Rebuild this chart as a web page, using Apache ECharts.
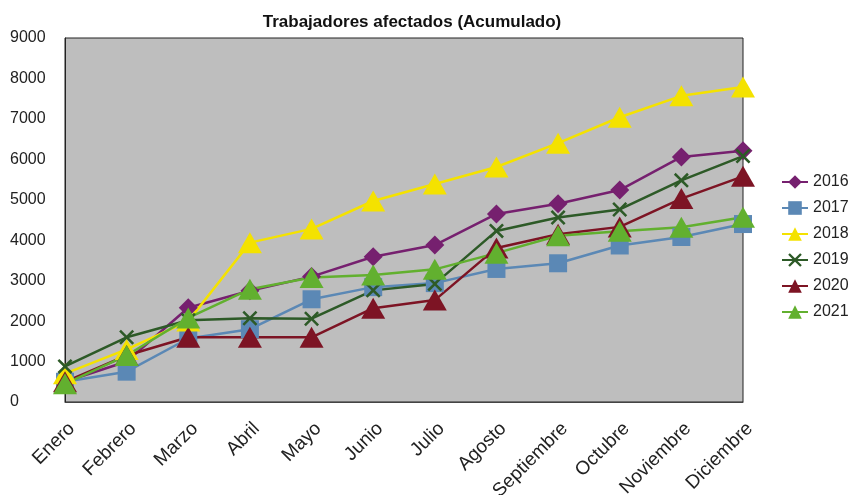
<!DOCTYPE html>
<html>
<head>
<meta charset="utf-8">
<script src="https://cdn.jsdelivr.net/npm/echarts@6/dist/echarts.min.js"></script>
<style>
  html, body { margin: 0; padding: 0; background: #fff; }
  #chart { width: 854px; height: 495px; }
</style>
</head>
<body>
<div id="chart"></div>
<script>
const meses = ['Enero', 'Febrero', 'Marzo', 'Abril', 'Mayo', 'Junio', 'Julio',
  'Agosto', 'Septiembre', 'Octubre', 'Noviembre', 'Diciembre']

const y2016 = [500, 1000, 2330, 2750, 3100, 3590, 3880, 4650, 4900, 5240, 6060, 6210]
const y2017 = [500, 750, 1570, 1800, 2540, 2840, 2940, 3290, 3430, 3870, 4080, 4400]
const y2018 = [700, 1300, 2000, 3940, 4280, 4970, 5390, 5810, 6400, 7040, 7570, 7790]
const y2019 = [880, 1600, 2020, 2070, 2060, 2760, 2920, 4230, 4560, 4760, 5480, 6080]
const y2020 = [500, 1150, 1600, 1600, 1600, 2320, 2520, 3810, 4150, 4330, 5030, 5580]
const y2021 = [450, 1150, 2080, 2790, 3080, 3140, 3280, 3680, 4110, 4220, 4320, 4570]

const cruz = 'path://M0,1.2L1.2,0L5,3.8L8.8,0L10,1.2L6.2,5L10,8.8L8.8,10L5,6.2L1.2,10L0,8.8L3.8,5Z'

const chart = echarts.init(document.getElementById('chart'))

function serie(name, data, color, symbol, size) {
  return {
    name: name,
    type: 'line',
    data: data,
    symbol: symbol,
    symbolSize: size,
    showAllSymbol: true,
    lineStyle: { color: color, width: 2.5 },
    itemStyle: { color: color, borderWidth: 0 },
    emphasis: { disabled: true },
    animation: false
  }
}

chart.setOption({
  textStyle: { fontFamily: 'Liberation Sans, Arial, sans-serif' },
  title: {
    text: 'Trabajadores afectados (Acumulado)',
    left: 407,
    textAlign: 'center',
    top: 9,
    textStyle: { fontSize: 17, fontWeight: 'bold', color: '#111' }
  },
  legend: {
    orient: 'vertical',
    left: 776,
    top: 169,
    itemGap: 10,
    itemWidth: 26,
    itemHeight: 17,
    textStyle: { fontSize: 16, color: '#222' },
    data: ['2016', '2017', '2018', '2019', '2020', '2021']
  },
  grid: {
    left: 65,
    right: 111,
    top: 38,
    bottom: 93,
    containLabel: false,
    outerBoundsMode: 'none',
    show: true,
    backgroundColor: '#BEBEBE',
    borderColor: '#222',
    borderWidth: 1
  },
  xAxis: {
    type: 'category',
    boundaryGap: false,
    data: meses,
    axisLine: { show: true, lineStyle: { color: '#444', width: 1 } },
    axisTick: { show: false },
    axisLabel: {
      rotate: 45, fontSize: 19, color: '#222', margin: 17, interval: 0,
      align: 'right', verticalAlign: 'top'
    }
  },
  yAxis: {
    type: 'value',
    min: 0,
    max: 9000,
    interval: 1000,
    splitLine: { show: false },
    axisLine: { show: true, lineStyle: { color: '#222' } },
    axisTick: { show: false },
    axisLabel: {
      fontSize: 16, color: '#222', align: 'left', margin: 55,
      formatter: function (v) { return String(v) }
    }
  },
  series: [
    serie('2016', y2016, '#76206F', 'diamond', 19),
    serie('2017', y2017, '#5B88B5', 'rect', 18),
    serie('2018', y2018, '#F4E200', 'triangle', [24, 21]),
    serie('2019', y2019, '#2D5A27', cruz, 15),
    serie('2020', y2020, '#7D1424', 'triangle', [24, 21]),
    serie('2021', y2021, '#62B02F', 'triangle', [24, 21])
  ]
})
</script>
</body>
</html>
